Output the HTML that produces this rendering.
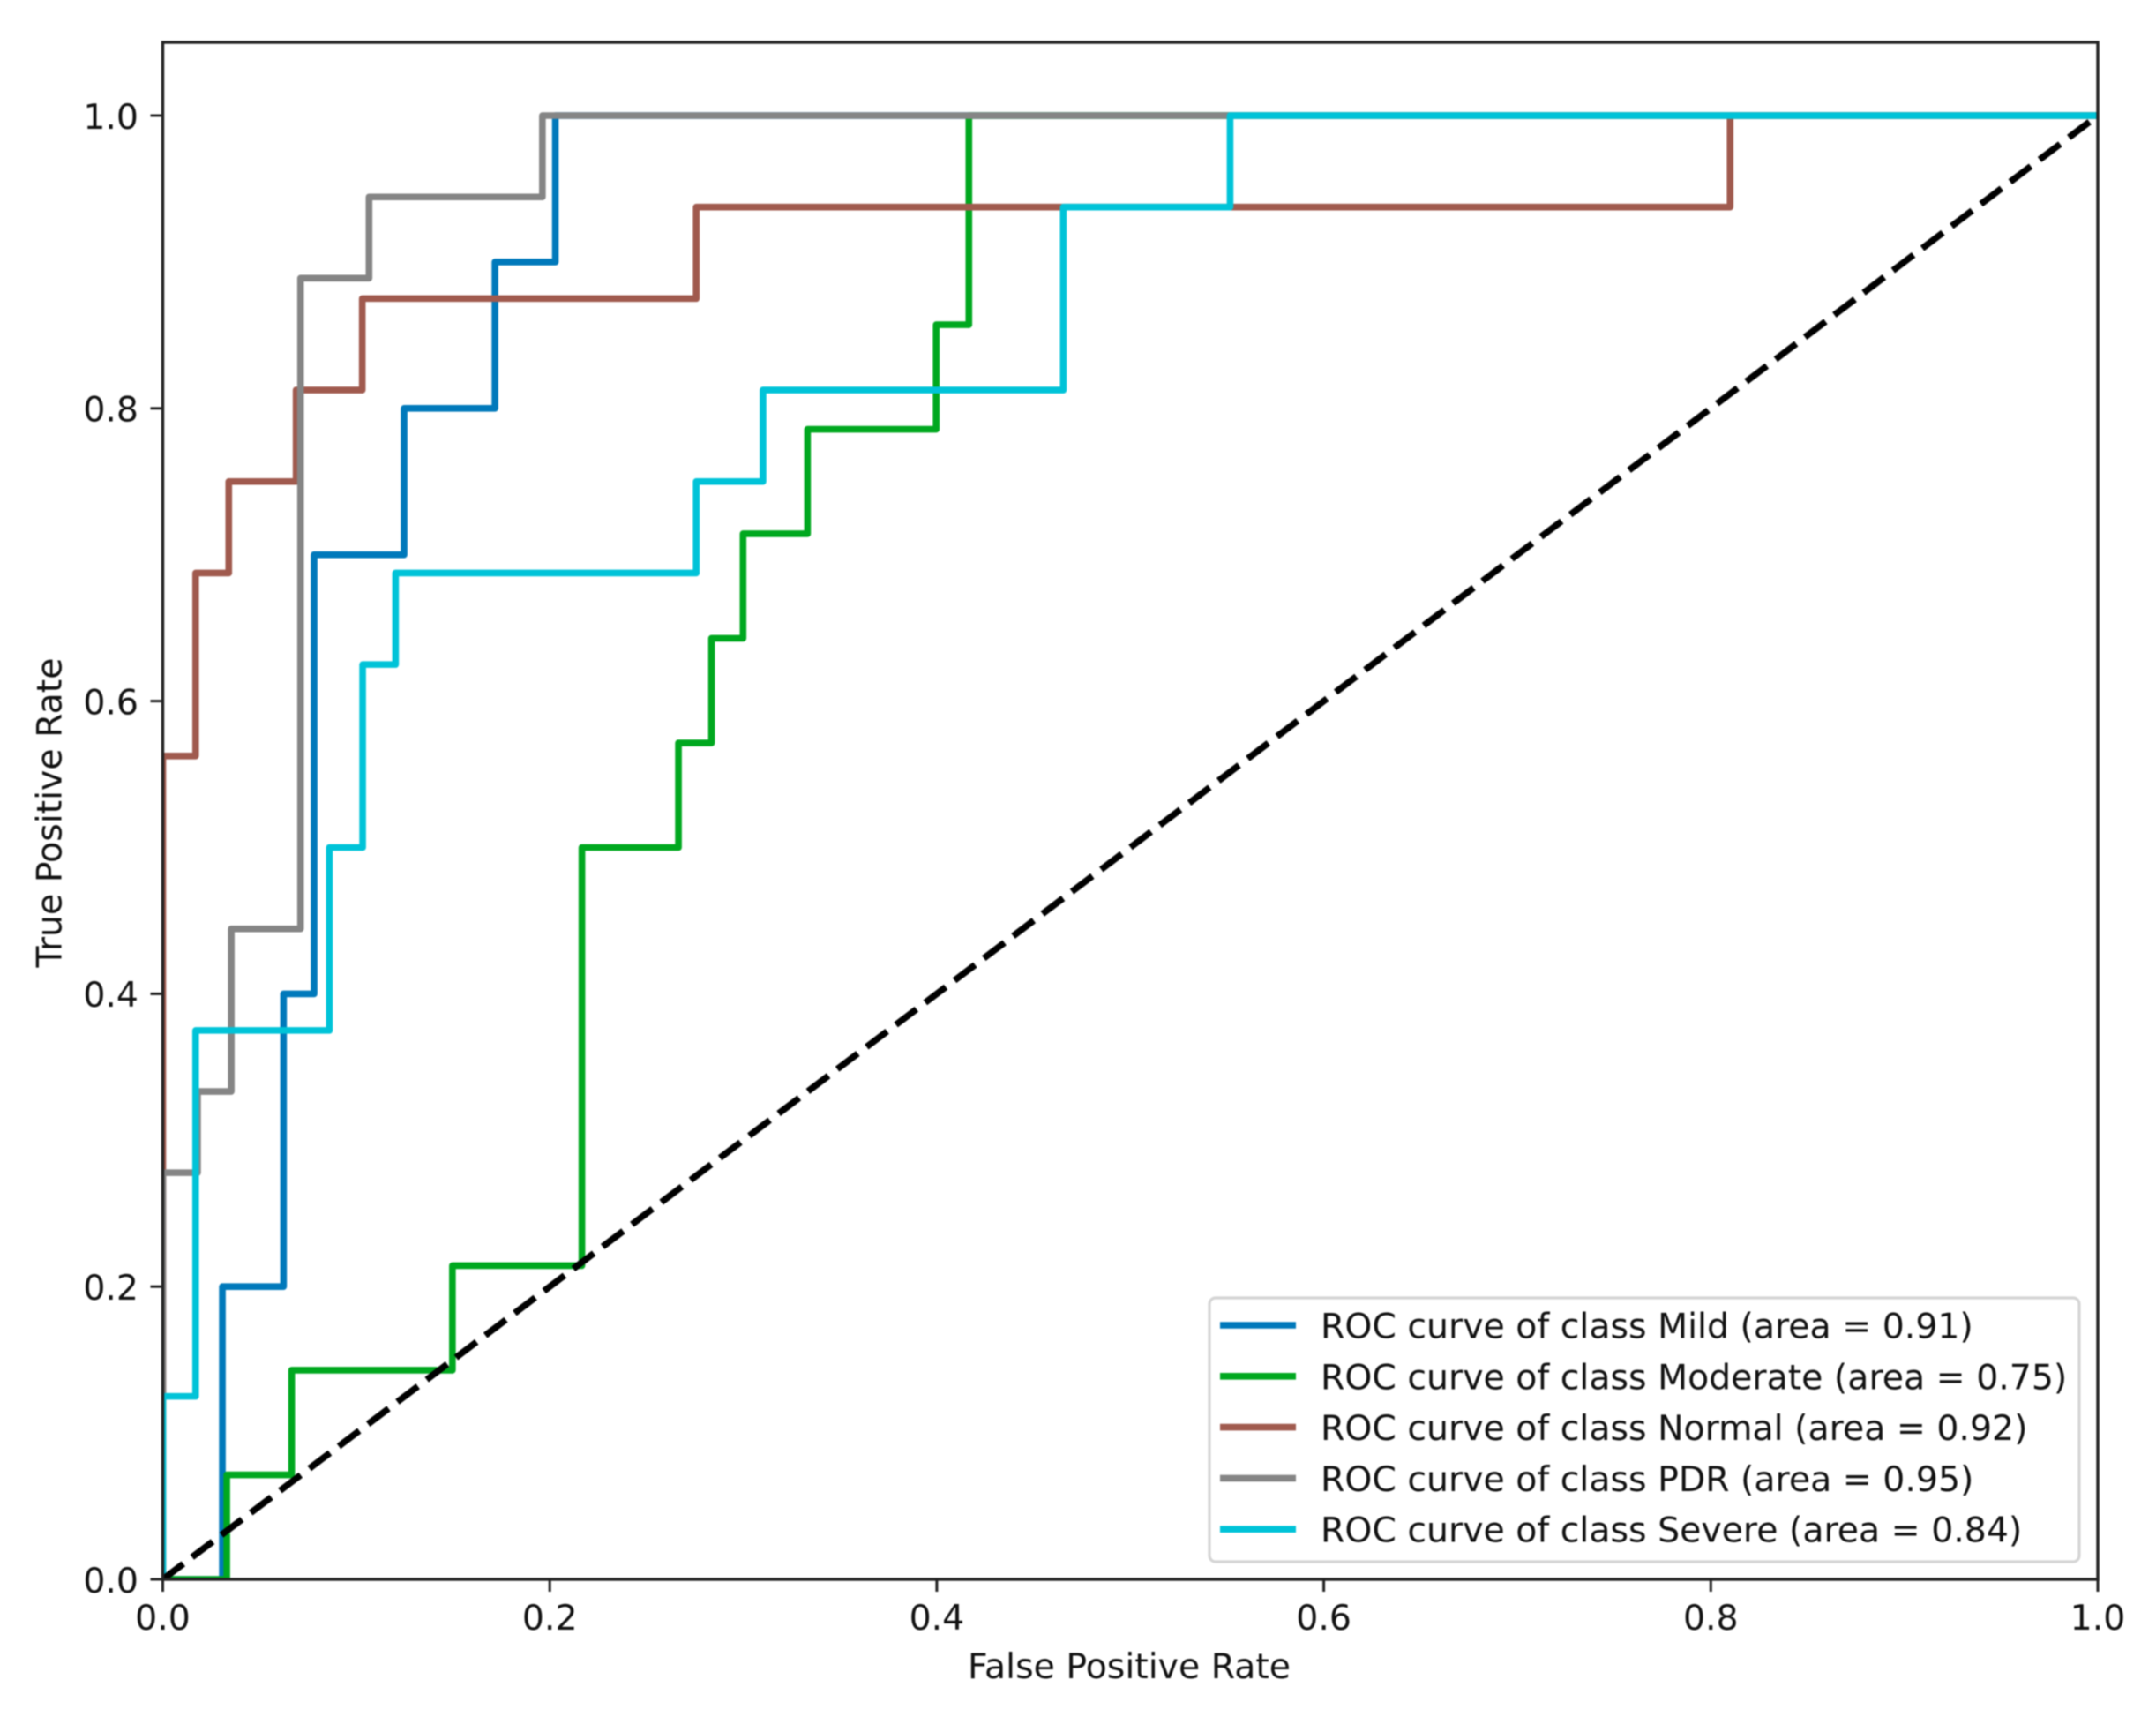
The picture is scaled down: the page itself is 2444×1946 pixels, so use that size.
<!DOCTYPE html>
<html lang="en">
<head>
<meta charset="utf-8">
<title>ROC curves</title>
<style>
  html, body { margin: 0; padding: 0; background: #ffffff; }
  body { width: 2444px; height: 1946px; overflow: hidden; }
  svg { display: block; filter: blur(0.8px); }
  text { font-family: "DejaVu Sans", "Liberation Sans", sans-serif; font-size: 39.4px; fill: #111111; }
</style>
</head>
<body>
<svg id="chart" xmlns="http://www.w3.org/2000/svg" width="2444" height="1946" viewBox="0 0 2444 1946">
  <defs>
    <clipPath id="axes-clip"><rect x="184.5" y="48" width="2193.5" height="1742"></rect></clipPath>
  </defs>
  <rect x="0" y="0" width="2444" height="1946" fill="#ffffff"></rect>
  <g id="curves" clip-path="url(#axes-clip)"></g>
  <g id="ticks"></g>
  <rect x="184.5" y="48" width="2193.5" height="1742" fill="none" stroke="#222222" stroke-width="3.4"></rect>
  <text x="1280" y="1902" text-anchor="middle">False Positive Rate</text>
  <text transform="translate(69.5 921) rotate(-90)" text-anchor="middle">True Positive Rate</text>
  <g>
    <rect x="1371" y="1471" width="986" height="299" rx="7" ry="7" fill="#ffffff" fill-opacity="0.9" stroke="#d4d4d4" stroke-width="3.2"></rect>
    <g id="legend-entries"></g>
  </g>
</svg>
<script>
const seriesNames = ["Mild", "Moderate", "Normal", "PDR", "Severe"];
const seriesAreas = ["0.91", "0.75", "0.92", "0.95", "0.84"];
const seriesColors = ["#0079bb", "#00a81f", "#a05a4e", "#858585", "#00c3d8"];

const mildFpr = [0, 0.0308, 0.0308, 0.0624, 0.0624, 0.0782, 0.0782, 0.1247, 0.1247, 0.1717, 0.1717, 0.2029, 0.2029, 1];
const mildTpr = [0, 0, 0.2, 0.2, 0.4, 0.4, 0.7, 0.7, 0.8, 0.8, 0.9, 0.9, 1, 1];

const moderateFpr = [0, 0.0331, 0.0331, 0.0666, 0.0666, 0.1497, 0.1497, 0.2166, 0.2166, 0.2665, 0.2665, 0.2836, 0.2836, 0.2999, 0.2999, 0.3332, 0.3332, 0.3997, 0.3997, 0.4166, 0.4166, 1];
const moderateTpr = [0, 0, 0.0714, 0.0714, 0.1429, 0.1429, 0.2143, 0.2143, 0.5, 0.5, 0.5714, 0.5714, 0.6429, 0.6429, 0.7143, 0.7143, 0.7857, 0.7857, 0.8571, 0.8571, 1, 1];

const normalFpr = [0, 0, 0.017, 0.017, 0.0341, 0.0341, 0.0689, 0.0689, 0.1031, 0.1031, 0.2757, 0.2757, 0.81, 0.81, 1];
const normalTpr = [0, 0.5625, 0.5625, 0.6875, 0.6875, 0.75, 0.75, 0.8125, 0.8125, 0.875, 0.875, 0.9375, 0.9375, 1, 1];

const pdrFpr = [0, 0, 0.018, 0.018, 0.0354, 0.0354, 0.0712, 0.0712, 0.1066, 0.1066, 0.1962, 0.1962, 1];
const pdrTpr = [0, 0.2778, 0.2778, 0.3333, 0.3333, 0.4444, 0.4444, 0.8889, 0.8889, 0.9444, 0.9444, 1, 1];

const severeFpr = [0, 0, 0.017, 0.017, 0.0861, 0.0861, 0.1033, 0.1033, 0.1203, 0.1203, 0.2757, 0.2757, 0.3102, 0.3102, 0.4654, 0.4654, 0.5516, 0.5516, 1];
const severeTpr = [0, 0.125, 0.125, 0.375, 0.375, 0.5, 0.5, 0.625, 0.625, 0.6875, 0.6875, 0.75, 0.75, 0.8125, 0.8125, 0.9375, 0.9375, 1, 1];

const seriesFpr = [mildFpr, moderateFpr, normalFpr, pdrFpr, severeFpr];
const seriesTpr = [mildTpr, moderateTpr, normalTpr, pdrTpr, severeTpr];

const chanceFpr = [0, 1];
const chanceTpr = [0, 1];

const xTicks = [0, 0.2, 0.4, 0.6, 0.8, 1];
const yTicks = [0, 0.2, 0.4, 0.6, 0.8, 1];
const xTickLabels = ["0.0", "0.2", "0.4", "0.6", "0.8", "1.0"];
const yTickLabels = ["0.0", "0.2", "0.4", "0.6", "0.8", "1.0"];

const NS = "http://www.w3.org/2000/svg";
const xScale = function (v) { return 184.5 + 2193.5 * v; };
const yScale = function (v) { return 1790 - 1659 * v; };

function make(tag, parent, attrs) {
  const el = document.createElementNS(NS, tag);
  Object.keys(attrs).forEach(function (k) { el.setAttribute(k, attrs[k]); });
  parent.appendChild(el);
  return el;
}

const curvesGroup = document.getElementById("curves");
const ticksGroup = document.getElementById("ticks");
const legendGroup = document.getElementById("legend-entries");

seriesNames.forEach(function (name, i) {
  const pts = seriesFpr[i].map(function (x, j) {
    return xScale(x).toFixed(2) + "," + yScale(seriesTpr[i][j]).toFixed(2);
  }).join(" ");
  const curve = make("polyline", curvesGroup, {
    points: pts, fill: "none", stroke: seriesColors[i], "stroke-width": 7.6,
    "stroke-linejoin": "round", "stroke-linecap": "square"
  });
  
  
});

const chancePts = chanceFpr.map(function (x, j) {
  return xScale(x).toFixed(2) + "," + yScale(chanceTpr[j]).toFixed(2);
}).join(" ");
const chanceLine = make("polyline", curvesGroup, {
  points: chancePts, fill: "none", stroke: "#000000", "stroke-width": 7.4,
  "stroke-dasharray": "29.2 12.48"
});



xTicks.forEach(function (v, i) {
  const tick = make("line", ticksGroup, {
    x1: xScale(v), x2: xScale(v), y1: 1790, y2: 1804, stroke: "#222222", "stroke-width": 3
  });
  
  
  const label = make("text", ticksGroup, { x: xScale(v), y: 1847, "text-anchor": "middle" });
  label.textContent = xTickLabels[i];
  
  
});

yTicks.forEach(function (v, i) {
  const tick = make("line", ticksGroup, {
    x1: 170.5, x2: 184.5, y1: yScale(v), y2: yScale(v), stroke: "#222222", "stroke-width": 3
  });
  
  
  const label = make("text", ticksGroup, { x: 157, y: yScale(v) + 14.8, "text-anchor": "end" });
  label.textContent = yTickLabels[i];
  
  
});

seriesNames.forEach(function (name, i) {
  const rowY = 1502 + 57.8 * i;
  const handle = make("line", legendGroup, {
    x1: 1383, x2: 1469, y1: rowY, y2: rowY, stroke: seriesColors[i], "stroke-width": 7.6
  });
  
  
  const label = make("text", legendGroup, { x: 1497, y: rowY + 14.5 });
  label.textContent = "ROC curve of class " + name + " (area = " + seriesAreas[i] + ")";
  
  
});
</script>
</body>
</html>
